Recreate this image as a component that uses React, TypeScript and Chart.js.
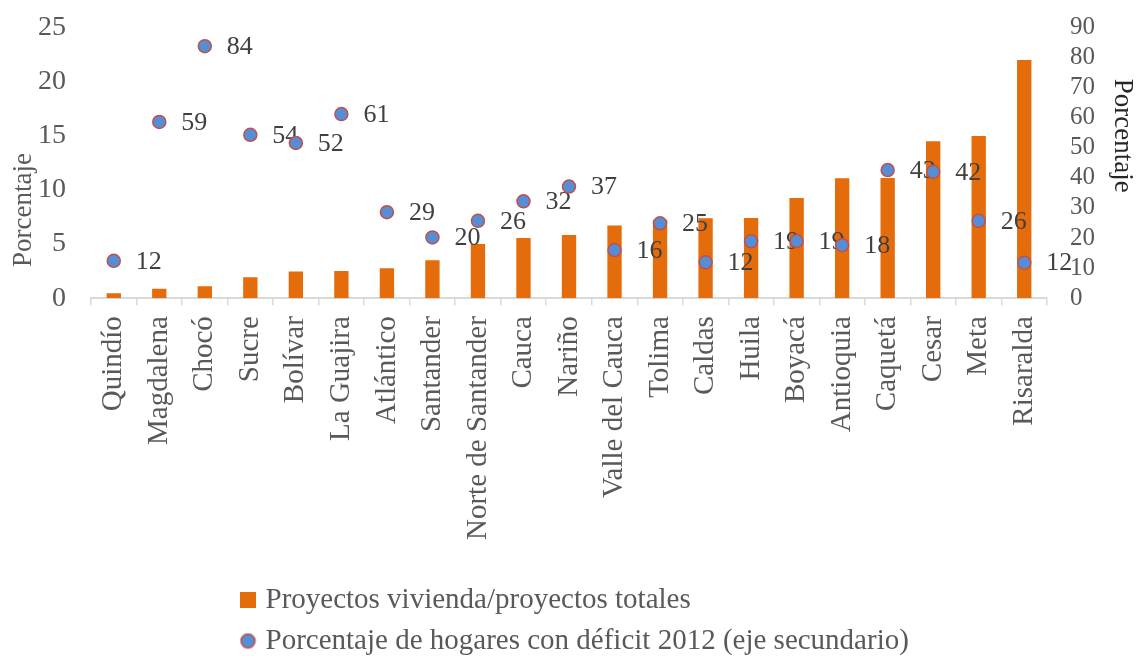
import React, { useEffect, useRef } from 'react';
import { Chart, registerables } from 'chart.js';

Chart.register(...registerables);

const categories = [
  'Quindío', 'Magdalena', 'Chocó', 'Sucre', 'Bolívar', 'La Guajira', 'Atlántico',
  'Santander', 'Norte de Santander', 'Cauca', 'Nariño', 'Valle del Cauca', 'Tolima',
  'Caldas', 'Huila', 'Boyacá', 'Antioquia', 'Caquetá', 'Cesar', 'Meta', 'Risaralda',
];

const viviendaShare = [
  0.45, 0.87, 1.1, 1.94, 2.47, 2.5, 2.75, 3.5, 5.0, 5.55, 5.83, 6.7, 7.25,
  7.38, 7.4, 9.26, 11.08, 11.1, 14.5, 14.97, 22.0,
];

const deficit2012 = [
  12.4, 58.6, 83.8, 54.3, 51.6, 61.2, 28.6, 20.2, 25.7, 32.2, 37.1, 16.0, 24.9,
  11.9, 18.9, 19.0, 17.6, 42.6, 42.0, 25.7, 11.8,
];

const seriesNames = [
  'Proyectos vivienda/proyectos totales',
  'Porcentaje de hogares con déficit 2012 (eje secundario)',
];

const leftAxisRange = [0, 25, 5];
const rightAxisRange = [0, 90, 10];
const axisTitle = 'Porcentaje';

const FONT = '"Liberation Serif", "Times New Roman", serif';
const BAR_COLOR = '#E46C0A';
const POINT_FILL = '#558ED5';
const POINT_BORDER = '#C0504D';

function makeSquare(): HTMLCanvasElement {
  const c = document.createElement('canvas');
  c.width = 16;
  c.height = 16;
  const g = c.getContext('2d')!;
  g.fillStyle = BAR_COLOR;
  g.fillRect(0, 0, 16, 16);
  return c;
}

function makeCircle(): HTMLCanvasElement {
  const c = document.createElement('canvas');
  c.width = 17;
  c.height = 17;
  const g = c.getContext('2d')!;
  g.beginPath();
  g.arc(8.5, 8.5, 7, 0, Math.PI * 2);
  g.fillStyle = POINT_FILL;
  g.fill();
  g.lineWidth = 1.5;
  g.strokeStyle = POINT_BORDER;
  g.stroke();
  return c;
}

const pointLabels = {
  id: 'pointLabels',
  beforeDatasetDraw(chart: any, args: any) {
    if (args.index !== 1) return;
    const meta = chart.getDatasetMeta(1);
    const ctx = chart.ctx;
    ctx.save();
    ctx.font = `26px ${FONT}`;
    ctx.fillStyle = '#404040';
    ctx.textAlign = 'left';
    ctx.textBaseline = 'middle';
    meta.data.forEach((pt: any, i: number) => {
      ctx.fillText(String(Math.round(deficit2012[i])), pt.x + 22, pt.y + 1);
    });
    ctx.restore();
  },
};

const legendPlacement = {
  id: 'legendPlacement',
  afterLayout(chart: any) {
    const lg = chart.legend;
    if (!lg) return;
    const dx = 233 - lg.left;
    lg.left += dx;
    lg.right += dx;
    const dy = 9.5;
    lg.top += dy;
    lg.bottom += dy;
  },
};

export default function App() {
  const ref = useRef<HTMLCanvasElement | null>(null);

  useEffect(() => {
    if (!ref.current) return;
    const square = makeSquare();
    const circle = makeCircle();

    const chart = new Chart(ref.current, {
      type: 'bar',
      data: {
        labels: categories,
        datasets: [
          {
            type: 'bar',
            label: seriesNames[0],
            data: viviendaShare,
            backgroundColor: BAR_COLOR,
            borderWidth: 0,
            yAxisID: 'y',
            order: 1,
            barPercentage: 0.315,
            categoryPercentage: 1,
          },
          {
            type: 'line',
            label: seriesNames[1],
            data: deficit2012,
            showLine: false,
            pointStyle: 'circle',
            pointRadius: 6.5,
            pointBorderWidth: 1.5,
            pointBackgroundColor: POINT_FILL,
            pointBorderColor: POINT_BORDER,
            backgroundColor: POINT_FILL,
            borderColor: POINT_BORDER,
            yAxisID: 'y1',
            order: 0,
          } as any,
        ],
      },
      options: {
        responsive: false,
        animation: false,
        events: [],
        font: { family: FONT },
        layout: { padding: { top: 27.5, left: 0, right: 0, bottom: 0 } },
        scales: {
          x: {
            offset: true,
            grid: {
              display: true,
              drawOnChartArea: false,
              drawTicks: true,
              tickLength: 7,
              color: '#D9D9D9',
              lineWidth: 1.5,
            },
            border: { display: true, color: '#D9D9D9', width: 2 },
            ticks: {
              autoSkip: false,
              maxRotation: 90,
              minRotation: 90,
              padding: 11,
              color: '#595959',
              font: { family: FONT, size: 29 },
            },
            afterFit: (scale: any) => {
              scale.height += 13;
            },
          },
          y: {
            position: 'left',
            min: leftAxisRange[0],
            max: leftAxisRange[1],
            grid: { display: false, drawTicks: true, tickLength: 22 },
            border: { display: false },
            ticks: {
              stepSize: leftAxisRange[2],
              autoSkip: false,
              padding: 3,
              color: '#595959',
              font: { family: FONT, size: 28 },
            },
            title: {
              display: true,
              text: axisTitle + ' '.repeat(14),
              color: '#595959',
              font: { family: FONT, size: 27, lineHeight: 1 },
              padding: { top: 10, bottom: 0 },
            },
            afterFit: (scale: any) => {
              scale.width = 91;
            },
          },
          y1: {
            position: 'right',
            min: rightAxisRange[0],
            max: rightAxisRange[1],
            grid: { display: false, drawTicks: true, tickLength: 20 },
            border: { display: false },
            ticks: {
              stepSize: rightAxisRange[2],
              autoSkip: false,
              padding: 3,
              color: '#595959',
              font: { family: FONT, size: 25 },
            },
            title: {
              display: true,
              text: axisTitle + ' '.repeat(8),
              color: '#262626',
              font: { family: FONT, size: 27, lineHeight: 1 },
              padding: { top: 0, bottom: 14 },
            },
            afterFit: (scale: any) => {
              scale.width = 89;
            },
          },
        },
        plugins: {
          tooltip: { enabled: false },
          legend: {
            display: true,
            position: 'bottom',
            align: 'start',
            fullSize: false,
            labels: {
              usePointStyle: true,
              boxWidth: 6,
              boxHeight: 16,
              padding: 12,
              color: '#595959',
              font: { family: FONT, size: 29 },
              sort: (a: any, b: any) => a.datasetIndex - b.datasetIndex,
              generateLabels: (ch: any) => {
                const items = Chart.defaults.plugins.legend.labels.generateLabels(ch);
                items.forEach((it: any) => {
                  it.pointStyle = it.datasetIndex === 0 ? square : circle;
                });
                return items;
              },
            },
          },
        },
      } as any,
      plugins: [pointLabels, legendPlacement],
    });

    return () => chart.destroy();
  }, []);

  return (
    <div style={{ position: 'fixed', left: 0, top: 0, width: 1136, height: 656, background: '#fff' }}>
      <canvas ref={ref} width={1136} height={656} />
    </div>
  );
}
